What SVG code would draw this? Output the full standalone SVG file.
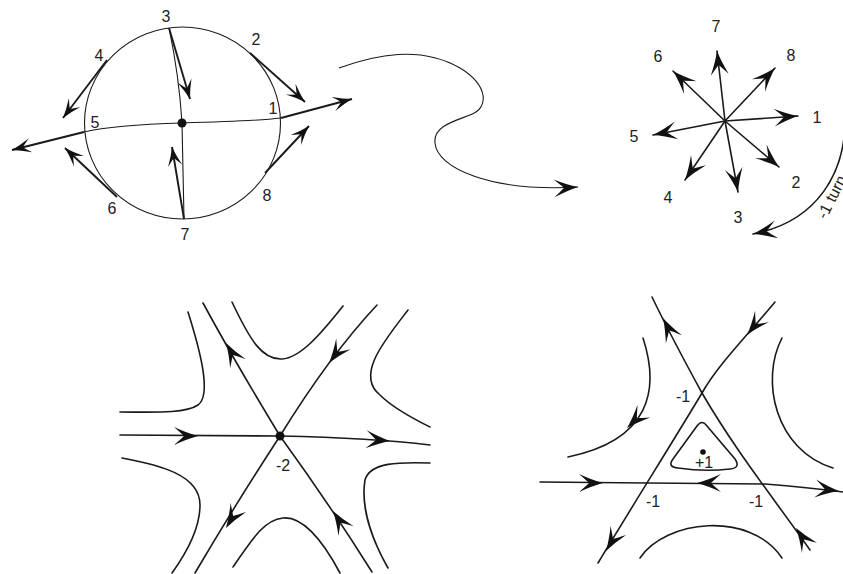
<svg xmlns="http://www.w3.org/2000/svg" xmlns:xlink="http://www.w3.org/1999/xlink" width="843" height="574" viewBox="0 0 843 574">
<style>
.ln{fill:none;stroke:#1a1a1a;stroke-width:1.6;stroke-linecap:round}
.thin{fill:none;stroke:#1a1a1a;stroke-width:1.1}
.thk{fill:none;stroke:#1a1a1a;stroke-width:1.9;stroke-linecap:butt}
.lb{font-family:"Liberation Sans",Arial,sans-serif;font-size:16px;fill:#222;text-anchor:middle}
.ah{fill:#111}
</style>
<defs>
<path id="ah" class="ah" d="M0,0 Q-11,-3 -24,-9 Q-17,-3 -14,0 Q-17,3 -24,9 Q-11,3 0,0 Z"/>
<marker id="arr" viewBox="-26 -10 28 20" refX="0" refY="0" markerWidth="28" markerHeight="20" markerUnits="userSpaceOnUse" orient="auto">
<path class="ah" d="M0,0 Q-11,-3 -24,-9 Q-17,-3 -14,0 Q-17,3 -24,9 Q-11,3 0,0 Z"/>
</marker>
<marker id="arrS" viewBox="-26 -10 28 20" refX="0" refY="0" markerWidth="22.4" markerHeight="16" markerUnits="userSpaceOnUse" orient="auto">
<path class="ah" d="M0,0 Q-11,-3 -24,-9 Q-17,-3 -14,0 Q-17,3 -24,9 Q-11,3 0,0 Z"/>
</marker>
</defs>

<g id="circle-field">
<ellipse class="thin" cx="182.5" cy="123" rx="98" ry="96"/>
<path class="thin" d="M169,28 Q179,75 182,123 L184,219"/>
<path class="thin" d="M182,123 C150,124 110,126 84,132"/>
<path class="thin" d="M182,123 C220,122 255,121 281,118"/>
<path class="thk" d="M84,132 L12,150" marker-end="url(#arrS)"/>
<path class="thk" d="M281,118 L352,99" marker-end="url(#arrS)"/>
<path class="thk" d="M169,28 L190,99" marker-end="url(#arrS)"/>
<path class="thk" d="M184,219 L172,147" marker-end="url(#arrS)"/>
<path class="thk" d="M107,60 L63,118" marker-end="url(#arrS)"/>
<path class="thk" d="M117,197 L65,148" marker-end="url(#arrS)"/>
<path class="thk" d="M250,53 L305,102" marker-end="url(#arrS)"/>
<path class="thk" d="M265,173 L309,126" marker-end="url(#arrS)"/>
<circle cx="182" cy="123" r="4.5" fill="#111"/>
<text class="lb" x="166" y="22">3</text>
<text class="lb" x="256" y="45">2</text>
<text class="lb" x="99" y="61">4</text>
<text class="lb" x="273" y="114">1</text>
<text class="lb" x="95" y="128">5</text>
<text class="lb" x="112" y="214">6</text>
<text class="lb" x="267" y="201">8</text>
<text class="lb" x="185" y="240">7</text>
</g>

<g id="connectors">
<path class="thin" d="M339,68 C375,55 420,45 460,68 C488,85 490,108 470,115 C455,121 433,126 435,143 C437,168 490,192 578,187" marker-end="url(#arr)"/>
</g>

<g id="star">
<path class="ln" d="M725,121 L798,116" marker-end="url(#arr)"/>
<path class="ln" d="M725,121 L779,167" marker-end="url(#arr)"/>
<path class="ln" d="M725,121 L738,192" marker-end="url(#arr)"/>
<path class="ln" d="M725,121 L685,180" marker-end="url(#arr)"/>
<path class="ln" d="M725,121 L653,135" marker-end="url(#arr)"/>
<path class="ln" d="M725,121 L673,71" marker-end="url(#arr)"/>
<path class="ln" d="M725,121 L717,51" marker-end="url(#arr)"/>
<path class="ln" d="M725,121 L775,68" marker-end="url(#arr)"/>
<text class="lb" x="716" y="32">7</text>
<text class="lb" x="658" y="62">6</text>
<text class="lb" x="791" y="61">8</text>
<text class="lb" x="817" y="123">1</text>
<text class="lb" x="634" y="142">5</text>
<text class="lb" x="796" y="188">2</text>
<text class="lb" x="668" y="203">4</text>
<text class="lb" x="738" y="223">3</text>
<path class="ln" d="M845,110 C848,175 815,222 753,234" marker-end="url(#arr)"/>
<text class="lb" style="text-anchor:start" transform="translate(826,220) rotate(-63)">-1 turn</text>
</g>

<g id="saddle">
<path class="ln" d="M120,435 L280,436 C330,437 390,440 430,445"/>
<path class="ln" d="M280,436 Q235,362 203,303"/>
<path class="ln" d="M280,436 Q235,505 195,573"/>
<path class="ln" d="M280,436 Q330,355 377,305"/>
<path class="ln" d="M280,436 Q330,505 372,572"/>
<path class="ln" d="M188,312 C200,350 212,395 198,405 C185,414 150,412 120,412"/>
<path class="ln" d="M232,302 C250,340 262,360 282,359 C300,358 320,335 343,306"/>
<path class="ln" d="M408,310 C385,340 355,375 380,395 C395,410 420,422 430,427"/>
<path class="ln" d="M430,463 C400,462 370,462 365,480 C360,510 375,545 388,568"/>
<path class="ln" d="M233,567 C255,535 265,520 283,518 C305,516 325,545 340,573"/>
<path class="ln" d="M122,458 C160,465 200,475 200,505 C200,530 185,555 172,573"/>
<use href="#ah" transform="translate(198,436)"/>
<use href="#ah" transform="translate(390,441) rotate(4)"/>
<use href="#ah" transform="translate(226,343) rotate(-120)"/>
<use href="#ah" transform="translate(226,528) rotate(121)"/>
<use href="#ah" transform="translate(329,363) rotate(127)"/>
<use href="#ah" transform="translate(333,511) rotate(-123)"/>
<circle cx="280" cy="436" r="4.5" fill="#111"/>
<text class="lb" x="283" y="471">-2</text>
</g>

<g id="triangle-field">
<path class="ln" d="M652,297 C668,330 685,362 702,393 C735,450 775,500 810,550"/>
<path class="ln" d="M775,302 C745,338 718,365 702,393 C680,430 630,510 598,563"/>
<path class="ln" d="M540,482 L647,483 L765,484 C790,486 820,489 843,492"/>
<path class="ln" d="M643,338 C660,390 650,440 568,457"/>
<path class="ln" d="M782,338 C760,380 775,450 833,468"/>
<path class="ln" d="M640,558 C665,520 750,510 782,558"/>
<path class="ln" d="M697,426 Q702,419 707,426 L735,459 Q741,468 730,469 Q705,472 678,468 Q667,467 673,459 Z"/>
<use href="#ah" transform="translate(663,318) rotate(-117)"/>
<use href="#ah" transform="translate(796,528) rotate(-124)"/>
<use href="#ah" transform="translate(747,335) rotate(129)"/>
<use href="#ah" transform="translate(606,551) rotate(121)"/>
<use href="#ah" transform="translate(603,483)"/>
<use href="#ah" transform="translate(697,483) rotate(180)"/>
<use href="#ah" transform="translate(839,491) rotate(6)"/>
<use href="#ah" transform="translate(627,428) rotate(135)"/>
<circle cx="703" cy="452" r="2.8" fill="#111"/>
<text class="lb" x="683" y="402">-1</text>
<text class="lb" x="653" y="507">-1</text>
<text class="lb" x="756" y="507">-1</text>
<text class="lb" x="704" y="468">+1</text>
</g>
</svg>
